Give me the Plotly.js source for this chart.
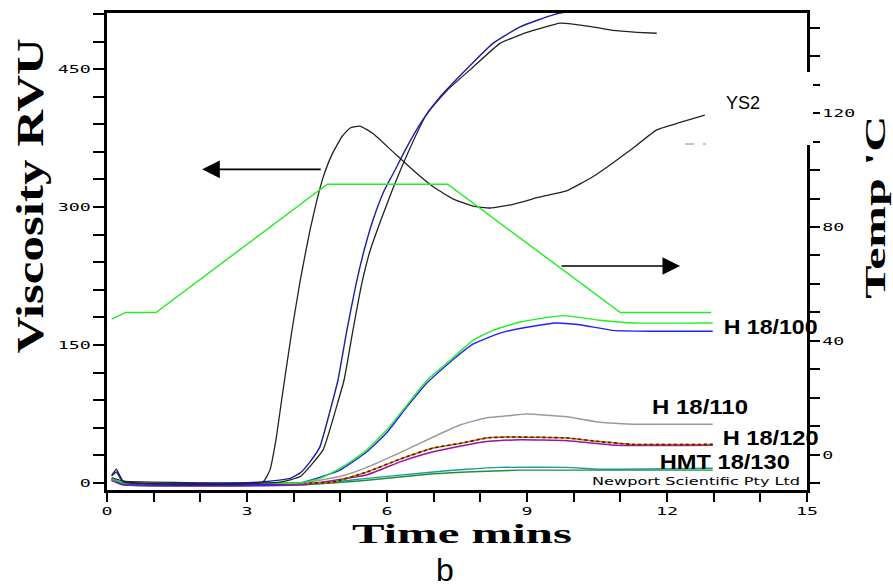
<!DOCTYPE html>
<html>
<head>
<meta charset="utf-8">
<script src="https://cdn.plot.ly/plotly-3.0.1.min.js"></script>
<style>
html,body{margin:0;padding:0;background:#fff;}
#chart{width:893px;height:588px;}
</style>
</head>
<body>
<div id="chart"></div>
<script>
// ---- data (time in minutes, viscosity in RVU, temperature in deg C) ----
const tempTime = [0.1, 0.4, 1.05, 4.72, 7.3, 11.0, 12.95];
const tempC    = [47.7, 50, 50, 95, 95, 50, 50];

const ys2Time = [0.1,0.2,0.35,3.34,3.49,3.62,3.77,3.96,4.14,4.35,4.50,4.63,4.82,5.04,5.21,5.42,5.70,6.13,6.56,6.99,7.41,7.84,8.21,8.70,9.28,9.86,10.41,10.84,11.27,11.78,12.28,12.81];
const ys2Visc = [8,15,2,1,14,47,100,165,220,275,308,332,357,377,386,388,380,360,340,322,309,301,299,303,311,318,333,348,364,384,392,400];

const nativeBlueTime = [0.1,0.2,0.35,2.85,3.49,3.92,4.14,4.35,4.56,4.84,4.95,5.14,5.34,5.51,5.70,5.94,6.17,6.39,6.77,7.14,7.84,8.27,8.85,9.56,9.98,11.5,13.03];
const nativeBlueVisc = [8,12,1,0,2,5,11,23,39,90,112,166,217,253,286,318,340,362,395,420,457,478,496,509,513,514,514];

const nativeBlackTime = [0.1,0.35,3.06,3.71,4.14,4.63,4.93,5.08,5.27,5.46,5.64,5.87,6.11,6.43,6.86,7.29,7.84,8.42,9.00,9.71,9.98,10.41,10.84,11.36,11.78];
const nativeBlackVisc = [6,2,0,1,7,36,85,112,166,217,253,286,318,357,402,427,452,478,490,500,499,496,492,490,489];

const h100aTime = [0.1,0.35,3.06,4.14,4.56,4.99,5.27,5.57,6.00,6.43,6.86,7.41,7.84,8.27,8.85,9.77,10.56,11.27,12.98];
const h100aVisc = [5,0,0,0,5,16,25,36,58,85,112,136,155,166,175,182,177,174,174];
const h100bTime = [0.1,0.35,4.14,4.99,5.57,6.00,6.43,6.86,7.41,7.84,8.42,8.85,9.60,10.13,10.84,11.63,12.98];
const h100bVisc = [5,-1,0,14,34,55,83,109,134,151,163,168,174,172,166,165,165];

const h110Time = [0.1,0.35,4.14,4.99,5.57,6.28,6.99,7.56,8.14,8.57,9.00,9.86,10.56,11.27,12.98];
const h110Visc = [4,0,0,7,17,33,50,63,71,73,75,72,66,64,64];

const h120aTime = [0.1,0.35,4.14,4.84,5.57,6.28,6.99,7.56,8.14,8.57,9.86,10.56,11.27,12.98];
const h120aVisc = [4,0,0,1,12,26,38,43,49,50,49,45,42,42];
const h120bTime = [0.1,0.35,4.14,5.57,6.28,6.99,7.56,8.14,8.85,9.86,10.93,12.98];
const h120bVisc = [3,-2,-2,9,23,34,40,45,47,46,41,41];

const hmt130aTime = [0.1,0.35,4.14,4.84,5.57,6.99,7.71,8.42,9.86,10.56,12.98];
const hmt130aVisc = [3,-1,-1,1,5,12,15,17,17,15,16];
const hmt130bTime = [0.1,0.35,4.14,5.57,6.99,7.71,8.85,12.98];
const hmt130bVisc = [3,-2,-2,3,10,12,14,14];

const xTickVals = [0,1,2,3,4,5,6,7,8,9,10,11,12,13,14,15];
const xTickText = ['0','','','3','','','6','','','9','','','12','','','15'];
const yTickVals = [0,30,60,90,120,150,180,210,240,270,300,330,360,390,420,450,480,510];
const yTickText = ['0','','','','','150','','','','','300','','','','','450','',''];
const y2TickVals = [-10,0,10,20,30,40,50,60,70,80,90,100,110,120,130,140,150];
const y2TickText = ['','0','','','','40','','','','80','','','','120','','',''];

// ---- traces ----
function line(x, y, color, width, dash) {
  return {
    x: x, y: y, type: 'scatter', mode: 'lines',
    line: {color: color, width: width, shape: 'spline', smoothing: 0.4, dash: dash || 'solid'},
    hoverinfo: 'skip', showlegend: false
  };
}

const traces = [
  line(hmt130bTime, hmt130bVisc, '#1f8f2f', 1.4),
  line(hmt130aTime, hmt130aVisc, '#1a9a9a', 1.4),
  line(h120bTime, h120bVisc, '#a010a0', 1.5),
  line(h120aTime, h120aVisc, '#8a8a00', 1.5),
  line(h120aTime, h120aVisc, '#8b0000', 1.6, 'dot'),
  line(h110Time, h110Visc, '#9a9a9a', 1.5),
  line(h100bTime, h100bVisc, '#2020ff', 1.4),
  line(h100aTime, h100aVisc, '#22ee22', 1.4),
  line(nativeBlackTime, nativeBlackVisc, '#222222', 1.3),
  line(nativeBlueTime, nativeBlueVisc, '#1c1ca8', 1.4),
  line(ys2Time, ys2Visc, '#222222', 1.3),
  {x: tempTime, y: tempC, yaxis: 'y2', type: 'scatter', mode: 'lines',
   line: {color: '#22ee22', width: 1.4}, hoverinfo: 'skip', showlegend: false}
];

const tickFont = {family: 'DejaVu Sans Mono', size: 11, color: '#000'};
const serifBold = (s) => ({family: 'Liberation Serif, Times New Roman', size: s, color: '#000', weight: 'bold'});
const labelFont = {family: 'Liberation Sans, Arial', size: 21, color: '#000', weight: 'bold'};

function px2x(p) { return (p - 107) / 700; }
function px2y(p) { return (490 - p) / 477; }

const layout = {
  width: 893, height: 588,
  margin: {l: 107, r: 86, t: 13, b: 98, pad: 0},
  paper_bgcolor: '#fff', plot_bgcolor: '#fff',
  showlegend: false,
  xaxis: {
    range: [0, 15], showgrid: false, zeroline: false,
    showline: true, linewidth: 3, linecolor: '#000', mirror: true,
    ticks: 'outside', ticklen: 9, tickwidth: 2, tickcolor: '#000',
    tickmode: 'array', tickvals: xTickVals, ticktext: xTickText,
    tickfont: tickFont
  },
  yaxis: {
    range: [-7.6, 511], showgrid: false, zeroline: false,
    showline: true, linewidth: 3, linecolor: '#000',
    ticks: 'outside', ticklen: 11, tickwidth: 2, tickcolor: '#000',
    tickmode: 'array', tickvals: yTickVals, ticktext: yTickText,
    tickfont: tickFont
  },
  yaxis2: {
    overlaying: 'y', side: 'right',
    range: [-12.3, 155.1], showgrid: false, zeroline: false,
    showline: true, linewidth: 3, linecolor: '#000',
    ticks: 'outside', ticklen: 10, tickwidth: 2, tickcolor: '#000',
    tickmode: 'array', tickvals: y2TickVals, ticktext: y2TickText,
    tickfont: tickFont
  },
  shapes: [
    {type: 'rect', xref: 'paper', yref: 'paper', layer: 'above',
     x0: px2x(715), x1: px2x(813), y0: px2y(145), y1: px2y(72),
     fillcolor: '#fff', line: {width: 0}},
    {type: 'line', xref: 'paper', yref: 'paper', layer: 'above',
     x0: px2x(685), x1: px2x(706), y0: px2y(144), y1: px2y(144),
     line: {color: '#888', width: 1, dash: 'dash'}}
  ],
  annotations: [
    {text: 'Viscosity RVU', xref: 'paper', yref: 'paper', x: px2x(30), y: px2y(196),
     textangle: -90, showarrow: false, xanchor: 'center', yanchor: 'middle', font: serifBold(38)},
    {text: "Temp 'C", xref: 'paper', yref: 'paper', x: px2x(874), y: px2y(207),
     textangle: -90, showarrow: false, xanchor: 'center', yanchor: 'middle', font: serifBold(30)},
    {text: 'Time mins', xref: 'paper', yref: 'paper', x: px2x(462), y: px2y(534),
     showarrow: false, xanchor: 'center', yanchor: 'middle', font: serifBold(27)},
    {text: 'b', xref: 'paper', yref: 'paper', x: px2x(445), y: px2y(570),
     showarrow: false, xanchor: 'center', yanchor: 'middle',
     font: {family: 'Liberation Sans, Arial', size: 32, color: '#000'}},
    {text: 'YS2', xref: 'paper', yref: 'paper', x: px2x(724), y: px2y(103),
     showarrow: false, xanchor: 'left', yanchor: 'middle',
     font: {family: 'Liberation Sans, Arial', size: 18, color: '#000'}},
    {text: 'H 18/100', xref: 'paper', yref: 'paper', x: px2x(770), y: px2y(326),
     showarrow: false, xanchor: 'center', yanchor: 'middle', font: labelFont},
    {text: 'H 18/110', xref: 'paper', yref: 'paper', x: px2x(700), y: px2y(406),
     showarrow: false, xanchor: 'center', yanchor: 'middle', font: labelFont},
    {text: 'H 18/120', xref: 'paper', yref: 'paper', x: px2x(770), y: px2y(437),
     showarrow: false, xanchor: 'center', yanchor: 'middle', font: labelFont},
    {text: 'HMT 18/130', xref: 'paper', yref: 'paper', x: px2x(725), y: px2y(461),
     showarrow: false, xanchor: 'center', yanchor: 'middle', font: labelFont},
    {text: 'Newport Scientific Pty Ltd', xref: 'paper', yref: 'paper', x: px2x(696), y: px2y(481),
     showarrow: false, xanchor: 'center', yanchor: 'middle',
     font: {family: 'DejaVu Sans', size: 11, color: '#000'}},
    // arrows
    {text: '', xref: 'x', yref: 'y', x: 2.04, y: 341, ax: 120, ay: 0,
     showarrow: true, arrowhead: 2, arrowsize: 2.2, arrowwidth: 1.6, arrowcolor: '#000'},
    {text: '', xref: 'x', yref: 'y2', x: 12.28, y: 66.3, ax: -120, ay: 0,
     showarrow: true, arrowhead: 2, arrowsize: 2.2, arrowwidth: 1.6, arrowcolor: '#000'}
  ]
};

// target rendered text lengths (px) for a few texts, to mimic the stretched lettering
const stretch = {0: 315, 1: 183, 2: 220, 5: 94, 6: 96, 7: 96, 8: 130, 9: 208};

Plotly.newPlot('chart', traces, layout, {staticPlot: true, displayModeBar: false}).then(function (gd) {
  Object.keys(stretch).forEach(function (i) {
    const t = gd.querySelector('.annotation[data-index="' + i + '"] text.annotation-text');
    if (t) {
      t.setAttribute('textLength', stretch[i]);
      t.setAttribute('lengthAdjust', 'spacingAndGlyphs');
    }
  });
  gd.querySelectorAll('g.xtick text, g.ytick text, g.y2tick text').forEach(function (t) {
    const n = (t.textContent || '').length;
    if (n > 0) {
      t.setAttribute('textLength', n * 11);
      t.setAttribute('lengthAdjust', 'spacingAndGlyphs');
    }
  });
});
</script>
</body>
</html>
